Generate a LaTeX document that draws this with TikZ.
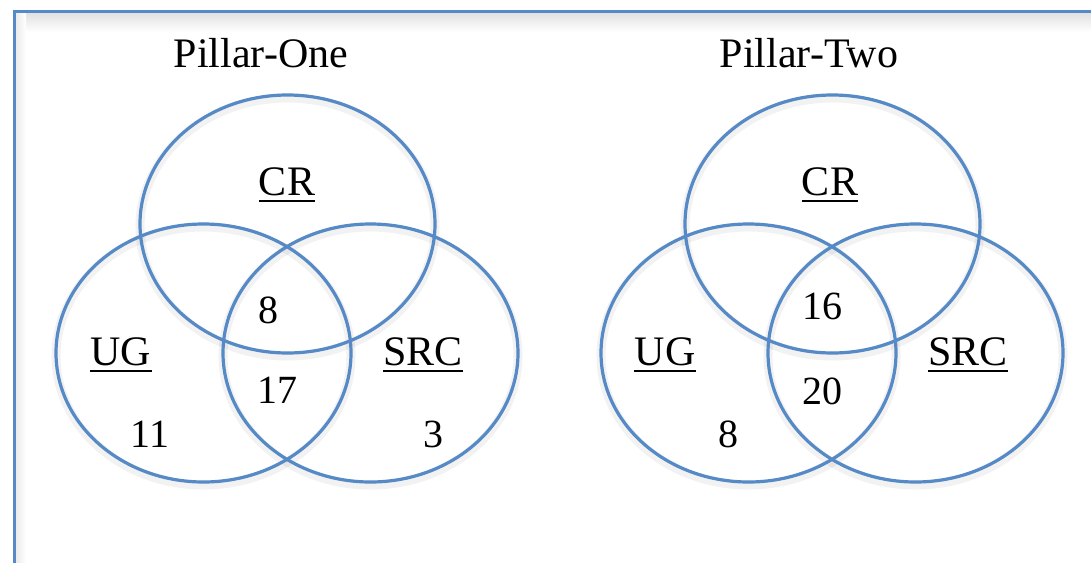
\documentclass[tikz,border=0pt]{standalone}
\usepackage{fontspec}
\setmainfont{Liberation Serif}
\definecolor{vennblue}{RGB}{86,138,198}
\tikzset{
  set/.style={draw=vennblue, line width=3.2pt},
  setshadow/.style={draw=black, line width=9pt, opacity=0.05},
  lbl/.style={font=\fontsize{42}{42}\selectfont, anchor=base, inner sep=0pt},
  num/.style={font=\fontsize{40}{40}\selectfont, anchor=base, inner sep=0pt},
  ttl/.style={font=\fontsize{42}{42}\selectfont, anchor=base, inner sep=0pt},
  uline/.style={draw=black, line width=2.3pt},
}
\newcommand{\underl}[1]{\draw[uline] ([yshift=-6pt]#1.base west) -- ([yshift=-6pt]#1.base east);}
\begin{document}
\begin{tikzpicture}[x=1pt,y=-1pt]
\useasboundingbox (0,0) rectangle (1091,562);
\clip (0,0) rectangle (1091,562);
\fill[white] (0,0) rectangle (1091,562);
% frame shadow
\shade[top color=black!12, bottom color=white] (16,12.5) rectangle (1100,32);
\shade[left color=black!8, right color=white] (16,12.5) rectangle (26,570);
\draw[draw=vennblue, line width=3pt] (14.5,11) -- (1100,11);
\draw[draw=vennblue, line width=3pt] (14.5,9.5) -- (14.5,570);
% shadows of ellipses
\foreach \dx in {0,545}{
  \draw[setshadow] (287.5+\dx,227) ellipse [x radius=147.5, y radius=129];
  \draw[setshadow] (203.5+\dx,356) ellipse [x radius=147.5, y radius=129];
  \draw[setshadow] (370.5+\dx,356) ellipse [x radius=147.5, y radius=129];
}
% Pillar-One
\node[ttl] (t1) at (261,67) {Pillar-One};
\draw[set] (287.5,224) ellipse [x radius=147.5, y radius=129];
\draw[set] (203.5,353) ellipse [x radius=147.5, y radius=129];
\draw[set] (370.5,353) ellipse [x radius=147.5, y radius=129];
\node[lbl] (cr1) at (287,195) {CR};
\node[lbl] (ug1) at (121,365) {UG};
\node[lbl] (src1) at (423,365) {SRC};
\underl{cr1}
\underl{ug1}
\underl{src1}
\node[num] (n8) at (268,323) {8};
\node[num] (n17) at (277,403) {17};
\node[num] (n11) at (150,447) {11};
\node[num] (n3) at (433,447) {3};
% Pillar-Two
\node[ttl] (t2) at (809,67) {Pillar-Two};
\draw[set] (832.5,224) ellipse [x radius=147.5, y radius=129];
\draw[set] (748.5,353) ellipse [x radius=147.5, y radius=129];
\draw[set] (915.5,353) ellipse [x radius=147.5, y radius=129];
\node[lbl] (cr2) at (830,195) {CR};
\node[lbl] (ug2) at (665,365) {UG};
\node[lbl] (src2) at (968,365) {SRC};
\underl{cr2}
\underl{ug2}
\underl{src2}
\node[num] (n16) at (822,319) {16};
\node[num] (n20) at (822,404) {20};
\node[num] (n8b) at (728,447) {8};
\end{tikzpicture}
\end{document}
